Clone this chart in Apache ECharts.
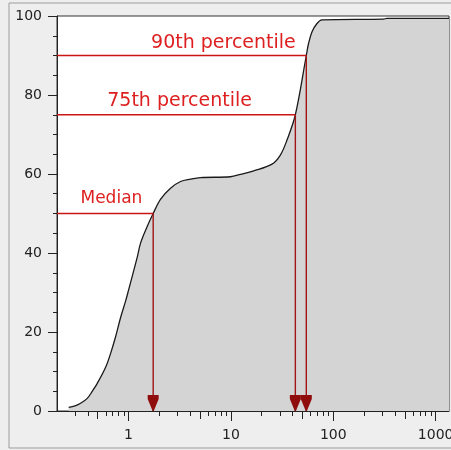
<!DOCTYPE html>
<html>
<head>
<meta charset="utf-8">
<script src="https://cdn.jsdelivr.net/npm/echarts@6/dist/echarts.min.js"></script>
<style>html,body{margin:0;padding:0;background:#eeeeee;}#c{width:451px;height:450px;}</style>
</head>
<body>
<div id="c"></div>
<script>
// Cumulative curve (x on log scale, y in percent)
var curveX = [0.26, 0.30, 0.34, 0.395, 0.44, 0.495, 0.60, 0.668, 0.747, 0.835, 0.935, 1.0, 1.22, 1.31, 1.52, 1.74, 2.05, 2.57, 3.22, 4.03, 5.04, 9.9, 12.4, 16.7, 25.2, 30.4, 35.3, 42.6, 54.5, 57.4, 62, 69.3, 77.6, 310, 334, 1350];
var curveY = [0.9, 1.3, 1.95, 3.2, 4.9, 7.0, 11.2, 14.6, 18.8, 23.6, 27.8, 30.6, 39.1, 42.5, 46.7, 50, 53.6, 56.4, 58.1, 58.7, 59.1, 59.3, 59.9, 60.8, 62.5, 64.8, 68.6, 75, 90, 93.1, 96, 98.1, 99.0, 99.2, 99.4, 99.4];
// Percentile markers
var pctNames = ['Median', '75th percentile', '90th percentile'];
var pctY = [50, 75, 90];
var pctX = [1.74, 42.6, 54.5];
// Where each percentile caption sits (data coordinates of text centre)
var pctLabelX = [0.68, 3.15, 8.45];
var pctLabelY = [53.7, 78.5, 93.1];
// Axis ranges and ticks
var xMin = 0.2, xMax = 1350;
var xMajorTicks = [1, 10, 100, 1000];
var xMidTicks = [0.5, 5, 50, 500];
var xMinorTicks = [0.3, 0.4, 0.6, 0.7, 0.8, 0.9, 2, 3, 4, 6, 7, 8, 9, 20, 30, 40, 60, 70, 80, 90, 200, 300, 400, 600, 700, 800, 900];

var L = function (v) { return Math.log10(v); };
var lmin = L(xMin), lmax = L(xMax);
var curve = curveX.map(function (x, i) { return [L(x), curveY[i]]; });
var labelSize = [17, 19, 19];

var series = [
  {
    type: 'line', data: curve, smooth: 0.35, symbol: 'none', xAxisIndex: 0, z: 2,
    lineStyle: { color: '#1a1a1a', width: 1.3 },
    areaStyle: { color: '#d4d4d4', opacity: 1 }
  }
];
pctNames.forEach(function (n, i) {
  // horizontal line from the y axis to the curve
  series.push({
    type: 'line', xAxisIndex: 0, z: 3, symbol: 'none', silent: true, color: '#cc1515',
    data: [[lmin, pctY[i]], [L(pctX[i]), pctY[i]]],
    lineStyle: { color: '#cc1515', width: 1.4, opacity: 1 }
  });
  // vertical drop line from the curve to the x axis
  series.push({
    type: 'line', xAxisIndex: 0, z: 3, symbol: 'none', silent: true, color: '#a01414',
    data: [[L(pctX[i]), pctY[i]], [L(pctX[i]), 0]],
    lineStyle: { color: '#a01414', width: 1.4, opacity: 1 }
  });
});
// arrow heads at the x axis
series.push({
  type: 'scatter', xAxisIndex: 0, z: 4, silent: true,
  data: pctX.map(function (x) { return [L(x), 0]; }),
  symbol: 'path://M0,0 L12,0 L12,4 L6.6,16 L5.4,16 L0,4 Z',
  symbolSize: [11, 16], symbolOffset: [0, '-50%'],
  itemStyle: { color: '#8f0d0d', opacity: 1 }
});
// captions
series.push({
  type: 'scatter', xAxisIndex: 0, z: 5, silent: true, symbolSize: 0,
  itemStyle: { opacity: 1 },
  data: pctNames.map(function (n, i) { return { value: [L(pctLabelX[i]), pctLabelY[i]], name: n,
    label: { fontSize: labelSize[i] } }; }),
  label: { show: true, position: 'inside', formatter: '{b}', color: '#dd1f1f', fontFamily: 'DejaVu Sans' }
});

var chart = echarts.init(document.getElementById('c'), null, { renderer: 'canvas' });
var baseX = { type: 'value', min: lmin, max: lmax, position: 'bottom', gridIndex: 0, splitLine: { show: false } };
chart.setOption({
  backgroundColor: '#eeeeee',
  animation: false,
  graphic: [{ type: 'rect', z: -10, shape: { x: 9, y: 3, width: 460, height: 445 }, style: { fill: 'none', stroke: '#9c9c9c', lineWidth: 1 } }],
  grid: { left: 57, right: 2, top: 16, bottom: 39, show: true, backgroundColor: '#ffffff', borderColor: '#333', borderWidth: 1, outerBoundsMode: 'none', containLabel: false },
  xAxis: [
    Object.assign({}, baseX, {
      axisLine: { show: true, onZero: false, lineStyle: { color: '#222', width: 1 } },
      axisTick: { show: true, length: 10, customValues: xMajorTicks.map(L), lineStyle: { color: '#222' } },
      axisLabel: { show: true, customValues: xMajorTicks.map(L), margin: 17, color: '#222', fontFamily: 'DejaVu Sans', fontSize: 14,
        formatter: function (v) { return String(Math.round(Math.pow(10, v))); } }
    }),
    Object.assign({}, baseX, {
      axisLine: { show: false, onZero: false },
      axisTick: { show: true, length: 8, customValues: xMidTicks.map(L), lineStyle: { color: '#222' } },
      axisLabel: { show: false }
    }),
    Object.assign({}, baseX, {
      axisLine: { show: false, onZero: false },
      axisTick: { show: true, length: 5, customValues: xMinorTicks.map(L), lineStyle: { color: '#222' } },
      axisLabel: { show: false }
    })
  ],
  yAxis: {
    type: 'value', min: 0, max: 100, interval: 20, position: 'left',
    axisLine: { show: true, onZero: false, lineStyle: { color: '#222' } },
    axisTick: { show: true, length: 9, lineStyle: { color: '#222' } },
    minorTick: { show: true, splitNumber: 4, length: 4, lineStyle: { color: '#222' } },
    splitLine: { show: false },
    axisLabel: { margin: 15, color: '#222', fontFamily: 'DejaVu Sans', fontSize: 14 }
  },
  series: series
});
</script>
</body>
</html>
